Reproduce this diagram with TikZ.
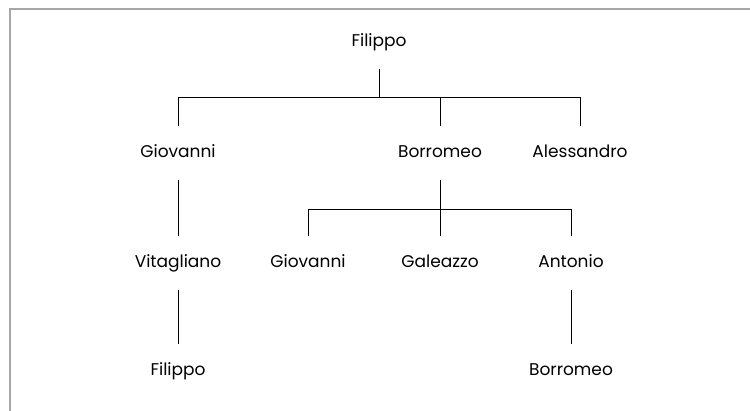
\documentclass[tikz,border=0pt]{standalone}
\usepackage{fontspec}
\setmainfont{Poppins}
\usepackage{tikz}

\begin{document}
\begin{tikzpicture}[
            x=1pt, y=-1pt,
            person/.style={font=\fontsize{17}{20}\selectfont, text height=12pt, text depth=3pt, minimum height=54pt, inner sep=0pt},
            link/.style={draw=black, line width=0.9pt},
            frame/.style={draw=black!35, line width=2pt}
        ]
            \useasboundingbox (0,0) rectangle (750,410);
            \draw[frame] (10,411) |- (751,9);

            % Generations
            \node[person] (fil) at (379, 42) {Filippo};
            \node[person] (gio) at (178, 153) {Giovanni};
            \node[person] (bor) at (440, 153) {Borromeo};
            \node[person] (ale) at (580, 153) {Alessandro};
            \node[person] (vit) at (178, 263) {Vitagliano};
            \node[person] (giob) at (308, 263) {Giovanni};
            \node[person] (gal) at (440, 263) {Galeazzo};
            \node[person] (ant) at (571, 263) {Antonio};
            \node[person] (filb) at (178, 371) {Filippo};
            \node[person] (borb) at (571, 371) {Borromeo};

            % Children of Filippo
            \draw[link] (fil.south) -- ++(0,28) coordinate (bar1);
            \draw[link] (gio.north) |- (bar1) -| (ale.north);
            \draw[link] (bar1 -| bor.north) -- (bor.north);

            % Children of Borromeo
            \draw[link] (bor.south) -- ++(0,29) coordinate (bar2);
            \draw[link] (giob.north) |- (bar2) -| (ant.north);
            \draw[link] (bar2) -- (gal.north);

            % Single lines
            \draw[link] (gio) -- (vit);
            \draw[link] (vit) -- (filb);
            \draw[link] (ant) -- (borb);
        \end{tikzpicture}
\end{document}
